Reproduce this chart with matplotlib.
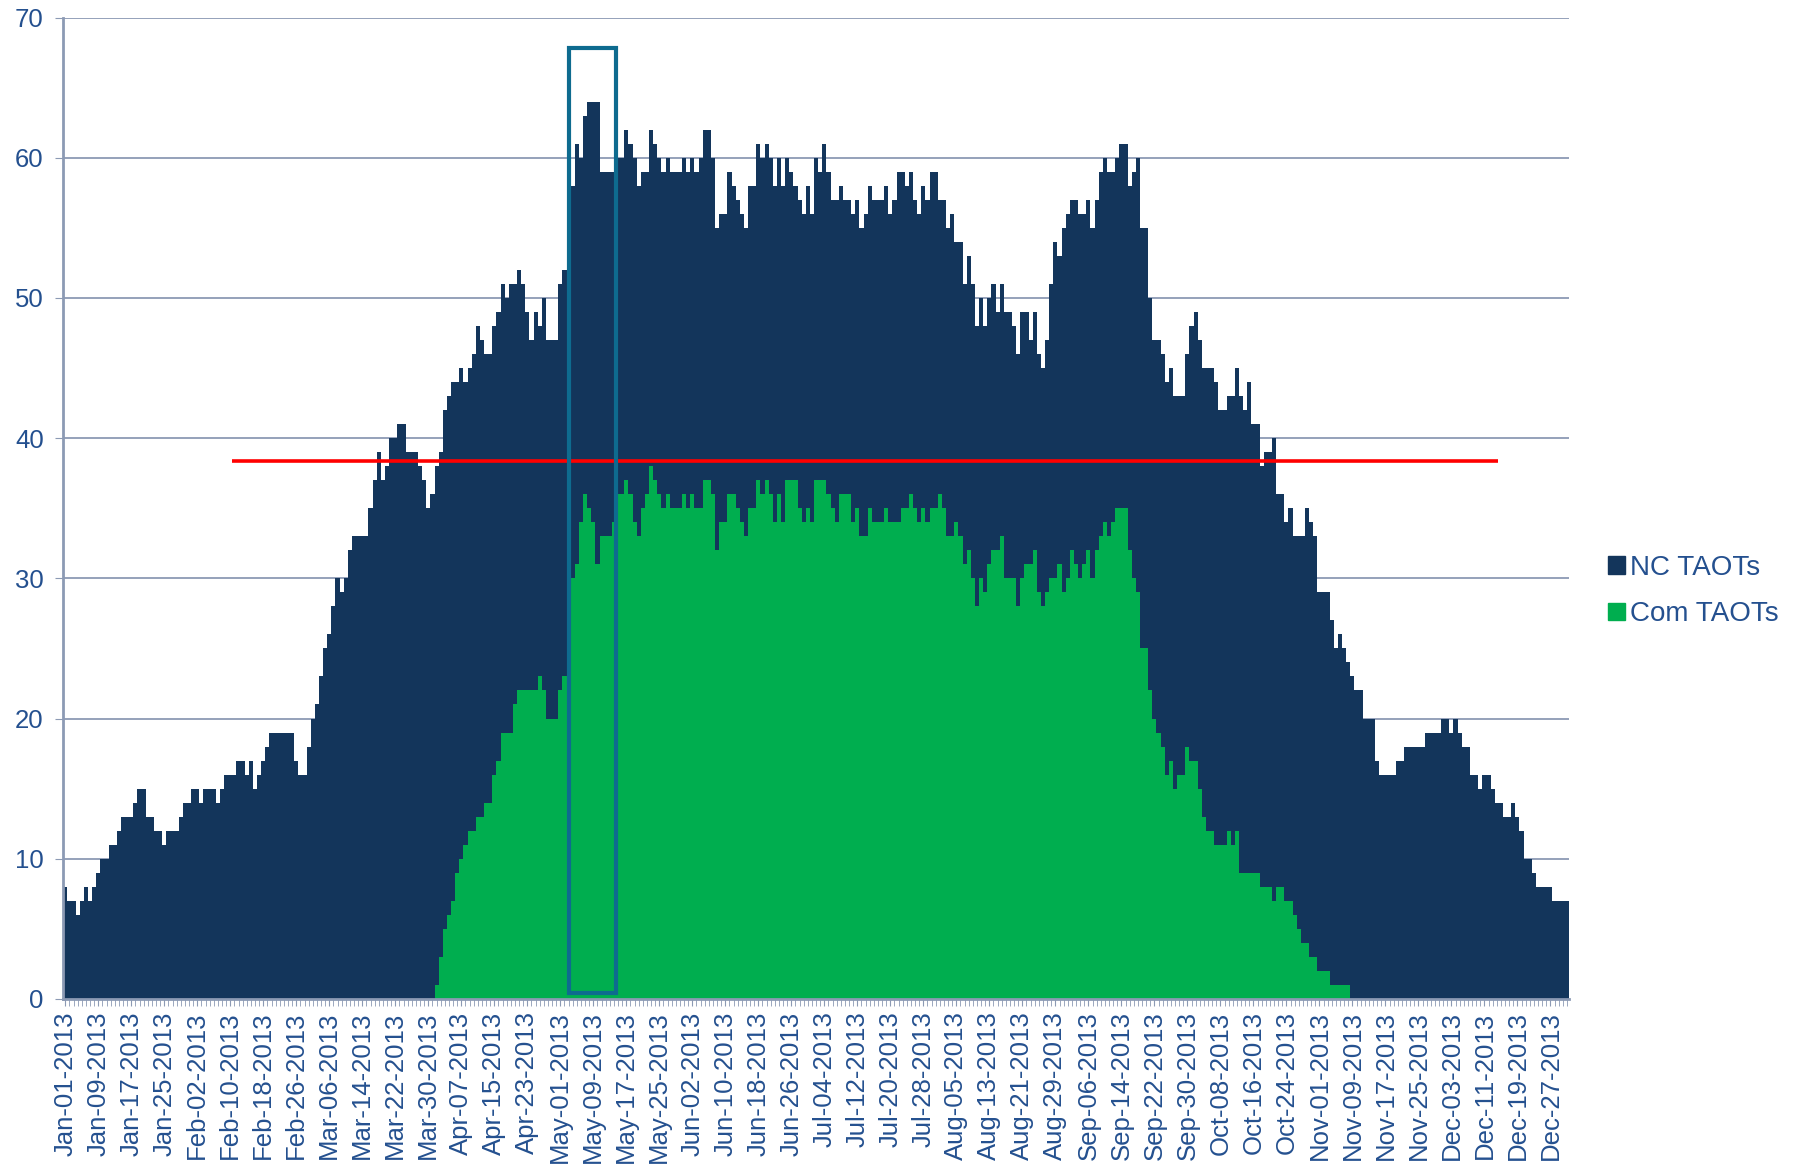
import numpy as np
import pandas as pd
import matplotlib
matplotlib.use('Agg')
import matplotlib.pyplot as plt
from matplotlib.patches import Rectangle, Patch

plt.rcParams['font.family'] = ['Liberation Sans', 'DejaVu Sans']

# daily counts, 2013, one list per month
nc_jan = [8,7,7,6,7,8,7,8,9,10,10,11,11,12,13,13,13,14,15,15,13,13,12,12,11,12,12,12,13,14,14]
nc_feb = [15,15,14,15,15,15,14,15,16,16,16,17,17,16,17,15,16,17,18,19,19,19,19,19,19,17,16,16]
nc_mar = [18,20,21,23,25,26,28,30,29,30,32,33,33,33,33,35,37,39,37,38,40,40,41,41,39,39,39,38,37,35,36]
nc_apr = [38,39,42,43,44,44,45,44,45,46,48,47,46,46,48,49,51,50,51,51,52,51,49,47,49,48,50,47,47,47]
nc_may = [51,52,55,58,61,60,63,64,64,64,59,59,59,59,60,60,62,61,60,58,59,59,62,61,60,59,60,59,59,59,60]
nc_jun = [59,60,59,60,62,62,60,55,56,56,59,58,57,56,55,58,58,61,60,61,60,58,60,58,60,59,58,57,56,58]
nc_jul = [56,60,59,61,59,57,57,58,57,57,56,57,55,56,58,57,57,57,58,56,57,59,59,58,59,57,56,58,57,59,59]
nc_aug = [57,57,55,56,54,54,51,53,51,48,50,48,50,51,49,51,49,49,48,46,49,49,47,49,46,45,47,51,54,53,55]
nc_sep = [56,57,57,56,56,57,55,57,59,60,59,59,60,61,61,58,59,60,55,55,50,47,47,46,44,45,43,43,43,46]
nc_oct = [48,49,47,45,45,45,44,42,42,43,43,45,43,42,44,41,41,38,39,39,40,36,36,34,35,33,33,33,35,34,33]
nc_nov = [29,29,29,27,25,26,25,24,23,22,22,20,20,20,17,16,16,16,16,17,17,18,18,18,18,18,19,19,19,19]
nc_dec = [20,20,19,20,19,18,18,16,16,15,16,16,15,14,14,13,13,14,13,12,10,10,9,8,8,8,8,7,7,7,7]

com_jan = [0]*31
com_feb = [0]*28
com_mar = [0]*31
com_apr = [1,3,5,6,7,9,10,11,12,12,13,13,14,14,16,17,19,19,19,21,22,22,22,22,22,23,22,20,20,20]
com_may = [22,23,28,30,31,34,36,35,34,31,33,33,33,34,36,36,37,36,34,33,35,36,38,37,36,35,36,35,35,35,36]
com_jun = [35,36,35,35,37,37,36,32,34,34,36,36,35,34,33,35,35,37,36,37,36,34,36,34,37,37,37,35,34,35]
com_jul = [34,37,37,37,36,35,34,36,36,36,34,35,33,33,35,34,34,34,35,34,34,34,35,35,36,35,34,35,34,35,35]
com_aug = [36,35,33,33,34,33,31,32,30,28,30,29,31,32,32,33,30,30,30,28,30,31,31,32,29,28,29,30,30,31,29]
com_sep = [30,32,31,30,31,32,30,32,33,34,33,34,35,35,35,32,30,29,25,25,22,20,19,18,16,17,15,16,16,18]
com_oct = [17,17,15,13,12,12,11,11,11,12,11,12,9,9,9,9,9,8,8,8,7,8,8,7,7,6,5,4,4,3,3]
com_nov = [2,2,2,1,1,1,1,1] + [0]*22
com_dec = [0]*31

threshold = 38.4

nc = nc_jan + nc_feb + nc_mar + nc_apr + nc_may + nc_jun + nc_jul + nc_aug + nc_sep + nc_oct + nc_nov + nc_dec
com = com_jan + com_feb + com_mar + com_apr + com_may + com_jun + com_jul + com_aug + com_sep + com_oct + com_nov + com_dec
dates = pd.date_range('2013-01-01', periods=len(nc), freq='D')
x = np.arange(len(nc))

navy = '#13355B'
green = '#00AE4F'
txt = '#24508F'
grid = '#8C9AB4'

fig = plt.figure(figsize=(17.96, 11.69), dpi=100)
ax = fig.add_axes([0.0352, 0.1455, 0.8384, 0.8395])

ax.bar(x, nc, width=1.0, color=navy, linewidth=0, antialiased=False, zorder=2)
ax.bar(x, com, width=1.0, color=green, linewidth=0, antialiased=False, zorder=3)

# threshold line and highlight box
ax.plot([40.4, 347.2], [threshold, threshold], color='#FF0000', lw=2.6, zorder=5, solid_capstyle='butt')
ax.add_patch(Rectangle((122.1, 0.45), 11.5, 67.35, fill=False, edgecolor='#0E6B8F', lw=3.0, zorder=6))

ax.set_xlim(-0.5, len(nc) - 0.5)
ax.set_ylim(0, 70)
ax.set_yticks(range(0, 71, 10))
ax.yaxis.grid(True, color=grid, lw=1.3, zorder=0)
ax.set_axisbelow(True)

ticks = x[::8]
ax.set_xticks(ticks)
ax.set_xticklabels([d.strftime('%b-%d-%Y') for d in dates[::8]], rotation=90)
ax.set_xticks(x, minor=True)

for s in ['top', 'right']:
    ax.spines[s].set_visible(False)
for s in ['left', 'bottom']:
    ax.spines[s].set_color(grid)
    ax.spines[s].set_linewidth(2)
    ax.spines[s].set_zorder(7)

ax.tick_params(axis='x', which='both', length=5, color=grid, labelsize=18.5, labelcolor=txt, pad=4)
ax.tick_params(axis='y', length=6, color=grid, labelsize=18.5, labelcolor=txt, pad=8)

handles = [Patch(color=navy), Patch(color=green)]
leg = fig.legend(handles, ['NC TAOTs', 'Com TAOTs'], loc='center left',
                 bbox_to_anchor=(0.8815, 0.4945), frameon=False, fontsize=20,
                 handlelength=0.6, handleheight=0.6, handletextpad=0.2, labelspacing=0.75)
for t in leg.get_texts():
    t.set_color(txt)

fig.savefig('out.png', dpi=100)
